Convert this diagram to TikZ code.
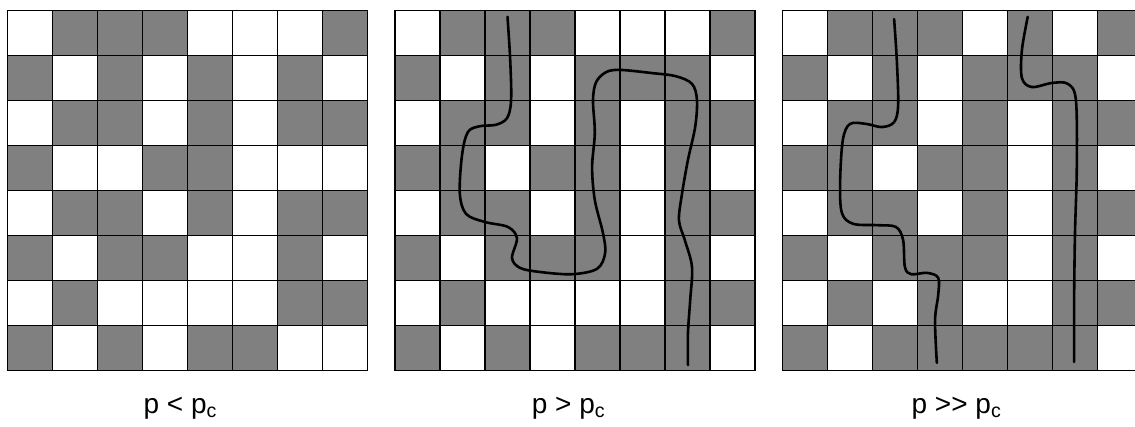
\documentclass[tikz,border=0pt]{standalone}
\usepackage{fontspec}
\setmainfont{Liberation Sans}
\definecolor{site}{HTML}{808080}
\colorlet{sq0}{white}
\colorlet{sq1}{site}
\begin{document}
\begin{tikzpicture}[x=22.5pt,y=-22.5pt,
  cell/.style={draw=black,line width=0.8pt},
  crossing/.style={line width=1.3pt,line cap=round,smooth,tension=0.55},
  lbl/.style={font=\fontsize{14}{16}\selectfont,anchor=base,inner sep=0pt}]
\useasboundingbox (0,0) rectangle (25.2222,9.4667);

% ---- lattice 1: below threshold
\begin{scope}[shift={(0.1667,0.2333)}]
  \foreach \row [count=\j from 0] in {{0,1,1,1,0,0,0,1},{1,0,1,0,1,0,1,0},{0,1,1,0,1,0,1,1},{1,0,0,1,1,0,0,0},
                                      {0,1,1,0,1,0,1,1},{1,0,1,1,0,0,1,0},{0,1,0,0,0,0,1,1},{1,0,1,0,1,1,0,0}}
    \foreach \v [count=\i from 0] in \row
      \path[cell,fill=sq\v] (\i,\j) rectangle ++(1,1);
\end{scope}

% ---- lattice 2: above threshold, one spanning cluster
\begin{scope}[shift={(8.7778,0.2333)}]
  \foreach \row [count=\j from 0] in {{0,1,1,1,0,0,0,1},{1,0,1,0,1,1,1,0},{0,1,1,0,1,0,1,1},{1,1,0,1,1,0,1,0},
                                      {0,1,1,0,1,0,1,1},{1,0,1,1,1,0,1,0},{0,1,0,0,0,0,1,1},{1,0,1,0,1,1,1,0}}
    \foreach \v [count=\i from 0] in \row
      \path[cell,fill=sq\v] (\i,\j) rectangle ++(1,1);
  \draw[crossing] plot coordinates {(2.50,0.14) (2.56,1.10) (2.58,1.99) (2.49,2.39) (2.24,2.54) (1.89,2.57)
    (1.62,2.70) (1.49,3.21) (1.44,4.06) (1.58,4.52) (2.00,4.70) (2.51,4.81) (2.71,5.06) (2.60,5.50)
    (2.78,5.72) (3.22,5.81) (3.93,5.86) (4.49,5.74) (4.67,5.39) (4.62,4.94) (4.44,4.21) (4.38,3.48)
    (4.44,2.72) (4.40,1.99) (4.47,1.59) (4.69,1.37) (5.00,1.32) (5.71,1.39) (6.24,1.46) (6.60,1.63)
    (6.71,1.99) (6.67,2.59) (6.51,3.32) (6.38,4.06) (6.31,4.66) (6.44,5.10) (6.60,5.70) (6.56,6.43)
    (6.51,7.17) (6.51,7.88)};
\end{scope}

% ---- lattice 3: far above threshold, two spanning paths
\begin{scope}[shift={(17.3889,0.2333)}]
  \clip (-0.2,-0.2) rectangle (7.8333,8.2);
  \foreach \row [count=\j from 0] in {{0,1,1,1,0,1,0,1},{1,0,1,0,1,1,1,0},{0,1,1,0,1,0,1,1},{1,1,0,1,1,0,1,0},
                                      {0,1,1,0,1,0,1,1},{1,0,1,1,1,0,1,0},{0,1,0,1,0,0,1,1},{1,0,1,1,1,1,1,0}}
    \foreach \v [count=\i from 0] in \row
      \path[cell,fill=sq\v] (\i,\j) rectangle ++(1,1);
  \draw[crossing] plot coordinates {(2.48,0.19) (2.54,1.10) (2.57,2.10) (2.48,2.48) (2.21,2.59) (1.86,2.52)
    (1.50,2.52) (1.34,2.88) (1.28,3.83) (1.32,4.50) (1.57,4.74) (2.10,4.77) (2.52,4.81) (2.68,5.10)
    (2.72,5.70) (2.86,5.86) (3.21,5.83) (3.46,5.94) (3.46,6.32) (3.39,6.88) (3.43,7.83)};
  \draw[crossing] plot coordinates {(5.45,0.14) (5.32,0.88) (5.32,1.50) (5.54,1.70) (5.99,1.61) (6.34,1.63)
    (6.52,1.99) (6.54,3.48) (6.50,4.94) (6.48,6.43) (6.48,7.81)};
\end{scope}

% ---- captions
\node[lbl] (below) at (4.011,9.178) {p < p\textsubscript{c}};
\node[lbl] (above) at (12.64,9.178) {p > p\textsubscript{c}};
\node[lbl] (far) at (21.26,9.178) {p >{}> p\textsubscript{c}};
\end{tikzpicture}
\end{document}
